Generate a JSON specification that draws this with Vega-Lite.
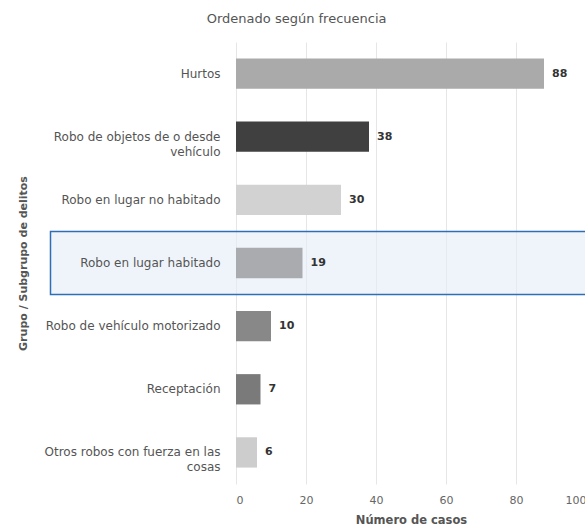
{
  "$schema": "https://vega.github.io/schema/vega-lite/v6.json",
  "width": 350,
  "height": 442,
  "padding": {"left": 17, "top": 13, "right": 0, "bottom": 0},
  "background": "white",
  "config": {
    "view": {"stroke": null},
    "font": "DejaVu Sans",
    "axis": {"labelFont": "DejaVu Sans", "titleFont": "DejaVu Sans"}
  },
  "title": {
    "text": "Ordenado según frecuencia",
    "fontSize": 13,
    "fontWeight": "normal",
    "color": "#555555",
    "anchor": "middle",
    "frame": "bounds",
    "dx": -7,
    "offset": 16
  },
  "data": {
    "values": [
      {"cat": "Hurtos", "casos": 88},
      {"cat": "Robo de objetos de o desde vehículo", "casos": 38},
      {"cat": "Robo en lugar no habitado", "casos": 30},
      {"cat": "Robo en lugar habitado", "casos": 19},
      {"cat": "Robo de vehículo motorizado", "casos": 10},
      {"cat": "Receptación", "casos": 7},
      {"cat": "Otros robos con fuerza en las cosas", "casos": 6}
    ]
  },
  "resolve": {"scale": {"y": "independent"}},
  "layer": [
    {
      "transform": [{"filter": "datum.cat == 'Robo en lugar habitado'"}],
      "mark": {"type": "rect", "fill": "#e4edf9", "fillOpacity": 0.6, "stroke": "#2f6db5", "strokeWidth": 1.5, "clip": false},
      "encoding": {
        "y": {
          "field": "cat", "type": "nominal", "axis": null,
          "scale": {
            "domain": ["Hurtos", "Robo de objetos de o desde vehículo", "Robo en lugar no habitado", "Robo en lugar habitado", "Robo de vehículo motorizado", "Receptación", "Otros robos con fuerza en las cosas"],
            "paddingInner": 0, "paddingOuter": 0
          }
        },
        "x": {"datum": -53, "type": "quantitative", "scale": {"domain": [0, 100]}},
        "x2": {"datum": 101}
      }
    },
    {
      "layer": [
        {
          "mark": {"type": "bar"},
          "encoding": {
            "color": {
              "field": "cat", "type": "nominal", "legend": null,
              "scale": {
                "domain": ["Hurtos", "Robo de objetos de o desde vehículo", "Robo en lugar no habitado", "Robo en lugar habitado", "Robo de vehículo motorizado", "Receptación", "Otros robos con fuerza en las cosas"],
                "range": ["#aaaaaa", "#404040", "#d2d2d2", "#a9abae", "#888888", "#7a7a7a", "#cdcdcd"]
              }
            }
          }
        },
        {
          "mark": {"type": "text", "align": "left", "dx": 8, "fontWeight": "bold", "fontSize": 11, "color": "#333333"},
          "encoding": {"text": {"field": "casos", "type": "quantitative"}}
        }
      ],
      "encoding": {
        "y": {
          "field": "cat", "type": "nominal",
          "sort": ["Hurtos", "Robo de objetos de o desde vehículo", "Robo en lugar no habitado", "Robo en lugar habitado", "Robo de vehículo motorizado", "Receptación", "Otros robos con fuerza en las cosas"],
          "scale": {"paddingInner": 0.52, "paddingOuter": 0.26},
          "title": "Grupo / Subgrupo de delitos",
          "axis": {
            "zindex": 1,
            "domain": false, "ticks": false,
            "labelPadding": 16, "labelFontSize": 12, "labelColor": "#555555",
            "labelLimit": 300, "labelLineHeight": 15,
            "labelExpr": "datum.label == 'Robo de objetos de o desde vehículo' ? ['Robo de objetos de o desde', 'vehículo'] : datum.label == 'Otros robos con fuerza en las cosas' ? ['Otros robos con fuerza en las', 'cosas'] : datum.label",
            "titleFontSize": 11, "titleFontWeight": "bold", "titleColor": "#555555", "titlePadding": 16
          }
        },
        "x": {
          "field": "casos", "type": "quantitative",
          "scale": {"domain": [0, 100]},
          "title": "Número de casos",
          "axis": {
            "values": [0, 20, 40, 60, 80, 100],
            "domain": false, "ticks": false,
            "grid": true, "gridColor": "#e6e6e6",
            "labelPadding": 10, "labelFontSize": 11, "labelColor": "#666666",
            "titleFontSize": 11.5, "titleFontWeight": "bold", "titleColor": "#555555", "titlePadding": 9
          }
        }
      }
    }
  ]
}
